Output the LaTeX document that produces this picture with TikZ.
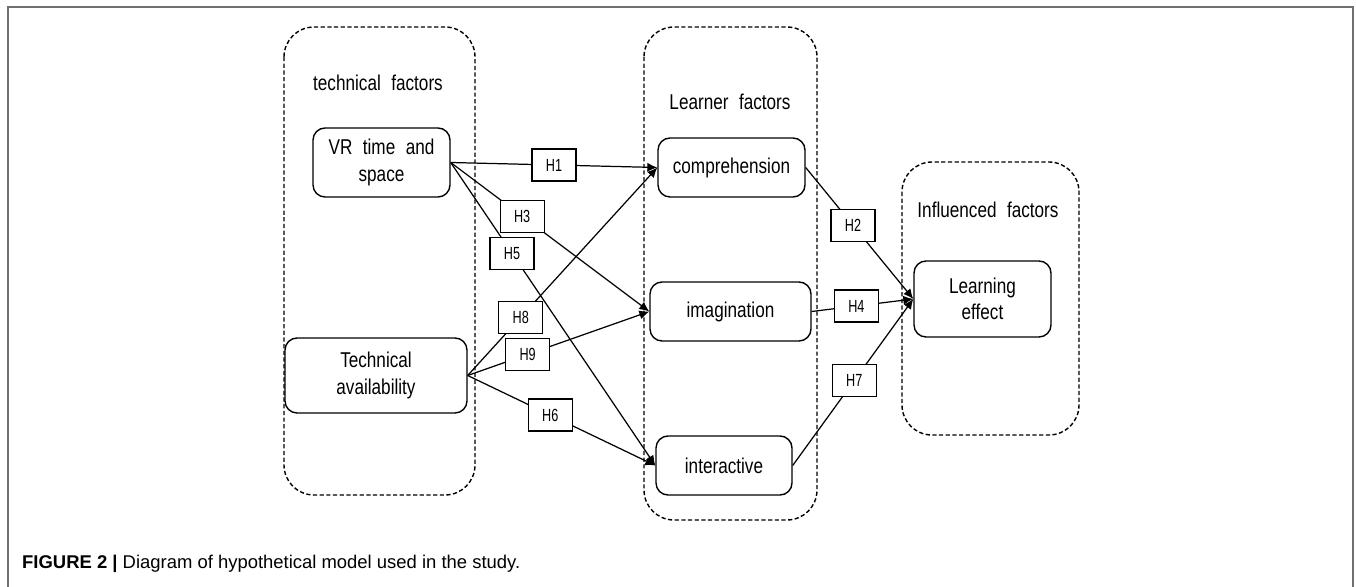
\documentclass[tikz,border=0pt]{standalone}
\usepackage{fontspec}
\setmainfont{Liberation Sans}
\newfontfamily\diagfont{Liberation Sans}[FakeStretch=0.8,WordSpace=2.2]
\newfontfamily\hfont{Liberation Sans}[FakeStretch=0.72]
\usetikzlibrary{arrows.meta}
\definecolor{framegray}{HTML}{707070}
\begin{document}
\begin{tikzpicture}[x=0.02cm, y=-0.02cm,
  group/.style={draw, dash pattern=on 2.4pt off 1.4pt, line width=0.8pt, rounded corners=0.6cm},
  factor/.style={draw, line width=0.8pt, rounded corners=0.24cm, align=center, inner sep=0pt,
    font=\diagfont\fontsize{12.2}{15}\selectfont},
  hbox/.style={draw, fill=white, line width=0.7pt, minimum width=0.88cm, minimum height=0.64cm,
    inner sep=0pt, font=\hfont\fontsize{10}{10}\selectfont},
  link/.style={line width=0.7pt, -{Latex[length=2mm,width=1.8mm]}},
  title/.style={font=\diagfont\fontsize{12.2}{13}\selectfont}]
\useasboundingbox (0,0) rectangle (1356,587);
% outer frame, open at the bottom
\draw[framegray, line width=0.8pt] (8,587) -- (8,7) -- (1353,7) -- (1353,587);
% factor groups
\draw[group] (284,27) rectangle (475,495);
\draw[group] (644,27) rectangle (817,520);
\draw[group] (902,162) rectangle (1079,435);
\node[title] (techtitle) at (378,83) {technical factors};
\node[title] (learntitle) at (730,102) {Learner factors};
\node[title] (inftitle) at (988,210) {Influenced factors};
% factors
\node[factor, minimum width=2.74cm, minimum height=1.38cm] (vr) at (381.5,162.5) {VR time and\\space};
\node[factor, minimum width=3.64cm, minimum height=1.5cm] (avail) at (376,375.5) {Technical\\availability};
\node[factor, minimum width=2.94cm, minimum height=1.18cm] (comp) at (731.5,167.5) {comprehension};
\node[factor, minimum width=3.22cm, minimum height=1.18cm] (imag) at (730.5,311.5) {imagination};
\node[factor, minimum width=2.72cm, minimum height=1.18cm] (inter) at (724,465.5) {interactive};
\node[factor, minimum width=2.74cm, minimum height=1.52cm] (effect) at (982.5,299) {Learning\\effect};
% hypotheses
\foreach \src/\dst/\lab/\p in {vr/comp/H1/0.5, vr/imag/H3/0.36, vr/inter/H5/0.3,
    avail/comp/H8/0.28, avail/imag/H9/0.33, avail/inter/H6/0.44,
    comp/effect/H2/0.44, imag/effect/H4/0.44, inter/effect/H7/0.51} {
  \draw[link] (\src.east) -- node[hbox, pos=\p] (\lab) {\lab} (\dst.west);
}
\node[anchor=west, font=\fontsize{10.5}{12}\selectfont] (caption) at (16,564)
  {\textbf{FIGURE 2 |} Diagram of hypothetical model used in the study.};
\end{tikzpicture}
\end{document}
